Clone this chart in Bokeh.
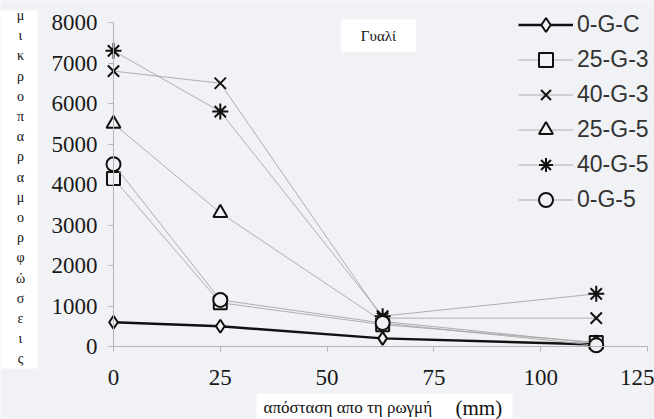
from bokeh.plotting import figure
from bokeh.models import Label, Legend, LegendItem, FixedTicker, Range1d, BoxAnnotation
from bokeh.embed import file_html
from bokeh.resources import INLINE

# distance from the crack (mm)
distance = [0, 25, 63, 113]

# microstrain readings per specimen
s_0GC = [600, 500, 200, 50]
s_25G3 = [4150, 1080, 540, 100]
s_40G3 = [6800, 6500, 700, 700]
s_25G5 = [5500, 3300, 620, 80]
s_40G5 = [7300, 5800, 750, 1300]
s_0G5 = [4500, 1150, 580, 30]

series_names = ["0-G-C", "25-G-3", "40-G-3", "25-G-5", "40-G-5", "0-G-5"]
series_values = [s_0GC, s_25G3, s_40G3, s_25G5, s_40G5, s_0G5]
series_markers = ["diamond", "square", "x", "triangle", "asterisk", "circle"]
marker_sizes = [13, 13, 16, 14, 16, 14]

x_ticks = [0, 25, 50, 75, 100, 125]
y_ticks = [0, 1000, 2000, 3000, 4000, 5000, 6000, 7000, 8000]

title_text = "Γυαλί"
x_label_text = "απόσταση απο τη ρωγμή"
x_unit_text = "(mm)"
y_label_text = "μικροπαραμορφώσεις"

BG = "#f0f2f5"
AXIS = "#b5b5b5"
SERIF = "'Liberation Serif', 'Times New Roman', serif"
SANS = "'Liberation Sans', Arial, sans-serif"

W, H = 654, 419
# pixel positions of the axis origin and far ends
X0_PX, X125_PX = 113, 647
Y0_PX, Y8000_PX = 346, 22

# data units per pixel, so the frame can cover the whole canvas
kx = 125 / (X125_PX - X0_PX)
ky = 8000 / (Y0_PX - Y8000_PX)
x_range = Range1d(-X0_PX * kx, (W - X0_PX) * kx)
y_range = Range1d(-(H - Y0_PX) * ky, Y0_PX * ky)

p = figure(
    width=W, height=H,
    x_range=x_range, y_range=y_range,
    output_backend="svg", toolbar_location=None,
    min_border=0, min_border_left=0, min_border_right=0,
    min_border_top=0, min_border_bottom=0,
    background_fill_color=BG, border_fill_color=BG,
    outline_line_color=None,
)
p.xgrid.visible = False
p.ygrid.visible = False

p.xaxis.ticker = FixedTicker(ticks=x_ticks)
p.yaxis.ticker = FixedTicker(ticks=y_ticks)
p.xaxis.fixed_location = 0
p.yaxis.fixed_location = 0
p.xaxis.bounds = (x_ticks[0], x_ticks[-1])
p.yaxis.bounds = (y_ticks[0], y_ticks[-1])
for ax in (p.xaxis[0], p.yaxis[0]):
    ax.axis_line_color = AXIS
    ax.axis_line_width = 1
    ax.major_tick_line_color = AXIS
    ax.minor_tick_line_color = None
    ax.major_label_text_font = SERIF
    ax.major_label_text_font_size = "23px"
    ax.major_label_text_color = "#1a1a1a"
    ax.major_tick_in = 0
    ax.major_tick_out = 5
p.xaxis[0].major_label_standoff = 18
p.yaxis[0].major_label_standoff = 11


def sx(px):
    return px


def sy(py):
    return H - py


# white backing for the vertical caption and the axis caption
p.add_layout(BoxAnnotation(
    left=sx(0), right=sx(37), top=sy(10), bottom=sy(368),
    left_units="screen", right_units="screen",
    top_units="screen", bottom_units="screen",
    fill_color="white", fill_alpha=1, line_color=None, level="underlay",
))
p.add_layout(BoxAnnotation(
    left=sx(256), right=sx(512), top=sy(393), bottom=sy(419),
    left_units="screen", right_units="screen",
    top_units="screen", bottom_units="screen",
    fill_color="white", fill_alpha=1, line_color=None, level="underlay",
))

items = []
for name, vals, mk, ms in zip(series_names, series_values, series_markers, marker_sizes):
    control = name == "0-G-C"
    ln = p.line(distance, vals,
                line_color="#111111" if control else "#a6a6a6",
                line_width=2.4 if control else 0.9)
    sc = p.scatter(distance, vals, marker=mk, size=ms,
                   line_color="#111111", line_width=2,
                   fill_color=BG)
    items.append(LegendItem(label=name, renderers=[ln, sc]))

legend = Legend(
    items=items, location=(518, H - 217), orientation="vertical",
    glyph_width=55, glyph_height=35, label_height=35, spacing=0,
    padding=0, margin=0, label_standoff=4,
    background_fill_alpha=0, border_line_color=None,
    label_text_font=SANS, label_text_font_size="23px",
    label_text_color="#333333",
)
p.add_layout(legend)

# title box
p.add_layout(Label(
    x=sx(378), y=sy(35), x_units="screen", y_units="screen",
    text=title_text, text_font=SERIF, text_font_size="15px",
    text_color="#111111", text_align="center", text_baseline="middle",
    background_fill_color="white", padding=(20, 8),
))

# x axis caption
p.add_layout(Label(
    x=sx(263), y=sy(407), x_units="screen", y_units="screen",
    text=x_label_text, text_font=SERIF, text_font_size="17px",
    text_color="#111111", text_align="left", text_baseline="middle",
))
p.add_layout(Label(
    x=sx(455), y=sy(407), x_units="screen", y_units="screen",
    text=x_unit_text, text_font=SERIF, text_font_size="21px",
    text_color="#111111", text_align="left", text_baseline="middle",
))

# vertical y axis caption, one upright letter per row
LETTER_TOP, LETTER_STEP = 15, 20.2
for i, ch in enumerate(y_label_text):
    p.add_layout(Label(
        x=sx(20), y=sy(LETTER_TOP + i * LETTER_STEP),
        x_units="screen", y_units="screen",
        text=ch, text_font=SERIF, text_font_size="14px",
        text_color="#111111", text_align="center", text_baseline="middle",
    ))

open("out.html", "w").write(file_html(p, INLINE))
